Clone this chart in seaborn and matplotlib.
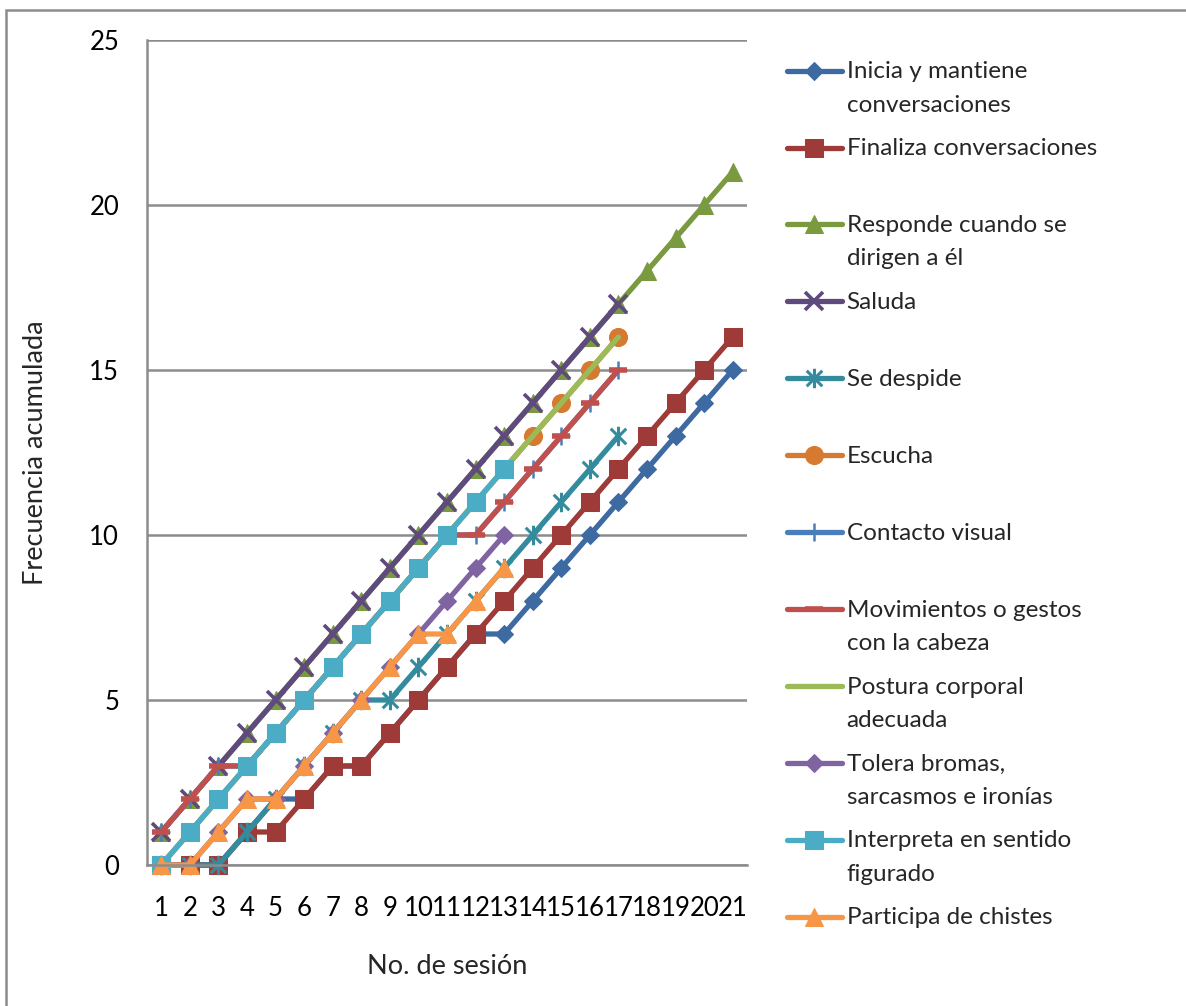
import matplotlib
matplotlib.use("Agg")
import matplotlib.pyplot as plt
import seaborn as sns
import pandas as pd
from matplotlib.path import Path
from matplotlib.patches import Rectangle

# ---------------- data ----------------
sessions = list(range(1, 22))
inicia = [0, 0, 0, 1, 2, 2, 3, 3, 4, 5, 6, 7, 7, 8, 9, 10, 11, 12, 13, 14, 15]
finaliza = [0, 0, 0, 1, 1, 2, 3, 3, 4, 5, 6, 7, 8, 9, 10, 11, 12, 13, 14, 15, 16]
responde = [1, 2, 3, 4, 5, 6, 7, 8, 9, 10, 11, 12, 13, 14, 15, 16, 17, 18, 19, 20, 21]
saluda = [1, 2, 3, 4, 5, 6, 7, 8, 9, 10, 11, 12, 13, 14, 15, 16, 17]
se_despide = [0, 0, 0, 1, 2, 3, 4, 5, 5, 6, 7, 8, 9, 10, 11, 12, 13]
escucha = [0, 1, 2, 3, 4, 5, 6, 7, 8, 9, 10, 11, 12, 13, 14, 15, 16]
contacto = [1, 2, 3, 3, 4, 5, 6, 7, 8, 9, 10, 10, 11, 12, 13, 14, 15]
movimientos = [1, 2, 3, 3, 4, 5, 6, 7, 8, 9, 10, 10, 11, 12, 13, 14, 15]
postura = [0, 1, 2, 3, 4, 5, 6, 7, 8, 9, 10, 11, 12, 13, 14, 15, 16]
tolera = [0, 0, 1, 2, 2, 3, 4, 5, 6, 7, 8, 9, 10]
interpreta = [0, 1, 2, 3, 4, 5, 6, 7, 8, 9, 10, 11, 12]
participa = [0, 0, 1, 2, 2, 3, 4, 5, 6, 7, 7, 8, 9]

labels = [
    "Inicia y mantiene\nconversaciones",
    "Finaliza conversaciones",
    "Responde cuando se\ndirigen a él",
    "Saluda",
    "Se despide",
    "Escucha",
    "Contacto visual",
    "Movimientos o gestos\ncon la cabeza",
    "Postura corporal\nadecuada",
    "Tolera bromas,\nsarcasmos e ironías",
    "Interpreta en sentido\nfigurado",
    "Participa de chistes",
]
series = [inicia, finaliza, responde, saluda, se_despide, escucha,
          contacto, movimientos, postura, tolera, interpreta, participa]

y_ticks = [0, 5, 10, 15, 20, 25]

# ---------------- styles ----------------
star = Path([(-1, -1), (1, 1), (-1, 1), (1, -1), (0, -1.25), (0, 1.25)],
            [Path.MOVETO, Path.LINETO, Path.MOVETO, Path.LINETO, Path.MOVETO, Path.LINETO])

styles = [
    dict(color="#3E6AA2", marker="D", markersize=9.5),
    dict(color="#9E3B38", marker="s", markersize=13),
    dict(color="#7A9A40", marker="^", markersize=13.5),
    dict(color="#5F4A7D", marker="x", markersize=12.5, markeredgewidth=2.6),
    dict(color="#348B9E", marker=star, markersize=14, markeredgewidth=2.2),
    dict(color="#D67A32", marker="o", markersize=13),
    dict(color="#4A7EBB", marker="+", markersize=13, markeredgewidth=1.8),
    dict(color="#C0504D", marker="_", markersize=13, markeredgewidth=4),
    dict(color="#9BBB59", marker=None),
    dict(color="#8064A2", marker="D", markersize=9.5),
    dict(color="#4BACC6", marker="s", markersize=13),
    dict(color="#F79646", marker="^", markersize=13.5),
]

sns.set_theme(style="white")
plt.rcParams["font.family"] = ["Lato", "DejaVu Sans"]

fig = plt.figure(figsize=(11.86, 10.06), dpi=100)
W, H = 1186, 1006
ax = fig.add_axes([147 / W, 1 - 865 / H, 600 / W, 825 / H])

for lab, vals, st in zip(labels, series, styles):
    df = pd.DataFrame({"x": sessions[:len(vals)], "y": vals})
    kw = dict(st)
    color = kw.pop("color")
    sns.lineplot(data=df, x="x", y="y", ax=ax, color=color, linewidth=3.8,
                 markeredgecolor=color, label=lab, legend=False, clip_on=False,
                 solid_capstyle="round", **kw)

ax.set_xlim(0.5, 21.5)
ax.set_ylim(0, 25)
ax.set_yticks(y_ticks)
ax.set_xticks(sessions)
ax.set_xticklabels([str(s) for s in sessions])
ax.yaxis.grid(True, color="#8C8C8C", linewidth=1.8)
ax.set_axisbelow(True)
for s in ["top", "right"]:
    ax.spines[s].set_visible(False)
for s in ["left", "bottom"]:
    ax.spines[s].set_color("#8C8C8C")
    ax.spines[s].set_linewidth(1.8)
ax.tick_params(axis="both", length=0, labelsize=18.5, colors="black")
ax.tick_params(axis="y", pad=20)
ax.tick_params(axis="x", pad=22)
ax.set_xlabel("No. de sesión", fontsize=19.5, labelpad=24)
ax.set_ylabel("Frecuencia acumulada", fontsize=19.5, labelpad=30)

# legend
handles = ax.get_lines()[:len(labels)]
leg_labels = [l if "\n" in l else l + "\n " for l in labels]
leg = fig.legend(handles, leg_labels, loc="upper left",
                 bbox_to_anchor=(787 / W, 1 - 61 / H), frameon=False,
                 fontsize=17.5, handlelength=2.25, handletextpad=0.2,
                 handleheight=1.0, labelspacing=0.92, borderpad=0,
                 borderaxespad=0)
for t in leg.get_texts():
    t.set_linespacing(1.74)
for col in leg._legend_handle_box.get_children():
    for item in col.get_children():
        item.align = "top"

# outer chart border
fig.patches.append(Rectangle((6 / W, -0.1), 1.2, 1 - 10 / H + 0.1,
                             transform=fig.transFigure, fill=False,
                             edgecolor="#8C8C8C", linewidth=1.8))

fig.savefig("out.png", dpi=100)
